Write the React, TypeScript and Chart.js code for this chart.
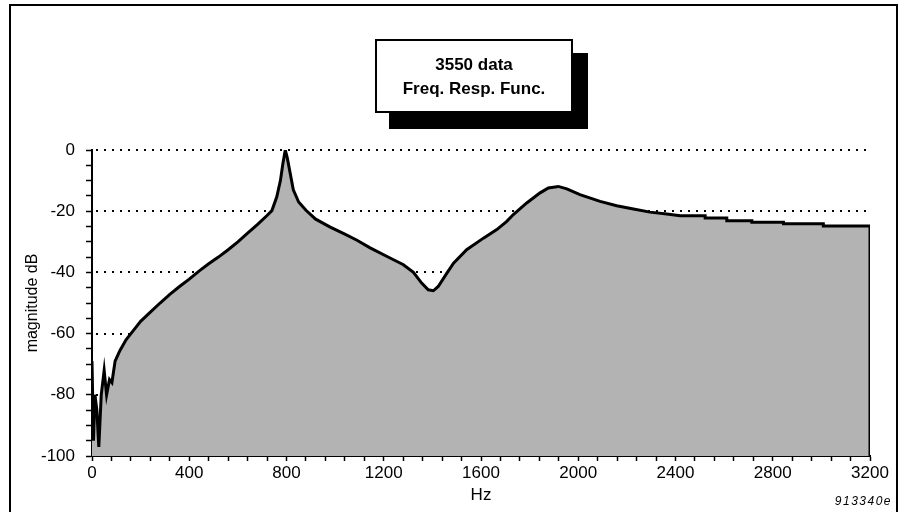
import React, { useEffect, useRef } from 'react';
import { Chart, registerables } from 'chart.js';

Chart.register(...registerables);

// Frequency response
const freqHz = [
  0, 6, 12, 20, 28, 38, 50, 60, 72, 82, 95, 115, 140, 160, 200, 240, 280, 320, 360, 400,
  440, 480, 520, 560, 600, 640, 680, 720, 740, 760, 775, 785, 795, 803, 815, 828, 850, 880,
  920, 980, 1040, 1090, 1144, 1226, 1281, 1322, 1356, 1383, 1404, 1424, 1459, 1487, 1541,
  1610, 1665, 1706, 1733, 1788, 1843, 1877, 1918, 1953, 2007, 2090, 2158, 2227, 2295, 2364,
  2419, 2522, 2522, 2611, 2611, 2714, 2714, 2844, 2844, 3008, 3008, 3200, 3200,
];
const magnitudeDb = [
  -69, -95, -80, -85, -97, -80, -72, -80, -75, -76, -69, -65.5, -62, -60, -56, -53, -50, -47.2, -44.6, -42.2,
  -39.6, -37.2, -35, -32.6, -30, -27.2, -24.4, -21.4, -19.8, -15.3, -10, -4.5, 0, -2.5, -7.5, -13, -17, -19.7,
  -22.6, -25.2, -27.5, -29.5, -32, -35.3, -37.5, -40, -43.5, -45.7, -46, -44.6, -40.3, -37, -32.6,
  -28.8, -26, -23.3, -21.1, -17.3, -14, -12.4, -11.9, -12.7, -14.6, -16.8, -18.2, -19.3, -20.3, -20.9,
  -21.5, -21.5, -22.2, -22.2, -23.1, -23.1, -23.6, -23.6, -24.1, -24.1, -24.8, -24.8, -100,
];

const xTickLabels = [0, 400, 800, 1200, 1600, 2000, 2400, 2800, 3200];
const yTickLabels = [0, -20, -40, -60, -80, -100];
const dottedGridDb = [0, -20, -40, -60, -80];
const titleLines = ['3550 data', 'Freq. Resp. Func.'];
const figureCode = '913340e';
const xAxisTitle = 'Hz';
const yAxisTitle = 'magnitude dB';

const FONT = '"Liberation Sans", Arial, Helvetica, sans-serif';

export default function App() {
  const ref = useRef<HTMLCanvasElement>(null);

  useEffect(() => {
    const canvas = ref.current;
    if (!canvas) return;

    const decor = {
      id: 'decor',
      beforeDatasetsDraw(chart: any) {
        const { ctx, chartArea, scales } = chart;
        const y = scales.y;
        ctx.save();
        ctx.strokeStyle = '#000';
        ctx.lineWidth = 2;
        ctx.setLineDash([2, 6]);
        dottedGridDb.forEach((v) => {
          const py = Math.round(y.getPixelForValue(v));
          ctx.beginPath();
          ctx.moveTo(chartArea.left + 4, py);
          ctx.lineTo(chartArea.right, py);
          ctx.stroke();
        });
        ctx.restore();
      },
      afterDraw(chart: any) {
        const { ctx } = chart;
        ctx.save();
        // outer frame
        ctx.strokeStyle = '#000';
        ctx.lineWidth = 2;
        ctx.strokeRect(10, 5, 887, 520);
        // title box with shadow
        ctx.fillStyle = '#000';
        ctx.fillRect(389, 53, 199, 76);
        ctx.fillStyle = '#fff';
        ctx.fillRect(376, 40, 196, 72);
        ctx.strokeRect(376, 40, 196, 72);
        ctx.fillStyle = '#000';
        ctx.font = `bold 17px ${FONT}`;
        ctx.textAlign = 'center';
        ctx.textBaseline = 'middle';
        ctx.fillText(titleLines[0], 474, 65);
        ctx.fillText(titleLines[1], 474, 89);
        // figure code
        ctx.font = `italic 12px ${FONT}`;
        (ctx as any).letterSpacing = '1.5px';
        ctx.textAlign = 'right';
        ctx.fillText(figureCode, 892, 502);
        ctx.restore();
      },
    };

    const points = freqHz.map((f, i) => ({ x: f, y: magnitudeDb[i] }));

    const chart = new Chart(canvas, {
      type: 'line',
      data: {
        datasets: [
          {
            data: points,
            borderColor: '#000',
            borderWidth: 3,
            backgroundColor: '#b3b3b3',
            fill: 'start',
            pointRadius: 0,
            tension: 0,
          },
        ],
      },
      options: {
        animation: false,
        responsive: false,
        devicePixelRatio: 1,
        layout: { padding: { left: 0, right: 34, top: 150, bottom: 0 } },
        plugins: { legend: { display: false }, tooltip: { enabled: false } },
        scales: {
          x: {
            type: 'linear',
            min: 0,
            max: 3200,
            z: 1,
            afterFit: (s: any) => { s.height = 56; },
            grid: { display: true, drawOnChartArea: false, drawTicks: true, tickLength: 5, tickColor: '#000', tickWidth: 1.5, color: '#000' },
            border: { display: true, color: '#000', width: 2 },
            ticks: {
              stepSize: 80,
              autoSkip: false,
              maxRotation: 0,
              padding: 2,
              color: '#000',
              font: { family: FONT, size: 17 },
              callback: (v: any) => (xTickLabels.includes(Math.round(Number(v))) ? String(Math.round(Number(v))) : ''),
            },
            title: { display: true, text: xAxisTitle, color: '#000', font: { family: FONT, size: 17 }, padding: { top: 0, bottom: 6 } },
          },
          y: {
            type: 'linear',
            min: -100,
            max: 0,
            z: 1,
            afterFit: (s: any) => { s.width = 92; },
            grid: { display: true, drawOnChartArea: false, drawTicks: true, tickLength: 6, tickColor: '#000', tickWidth: 1.5, color: '#000' },
            border: { display: true, color: '#000', width: 2 },
            ticks: {
              stepSize: 5,
              autoSkip: false,
              padding: 11,
              color: '#000',
              font: { family: FONT, size: 17 },
              callback: (v: any) => (yTickLabels.includes(Math.round(Number(v))) ? String(Math.round(Number(v))) : ''),
            },
            title: { display: true, text: yAxisTitle, color: '#000', font: { family: FONT, size: 16 }, padding: { top: 23, bottom: 0 } },
          },
        },
      },
      plugins: [decor],
    });

    return () => chart.destroy();
  }, []);

  return (
    <div style={{ position: 'fixed', left: 0, top: 0, width: 904, height: 512, background: '#fff' }}>
      <canvas ref={ref} width={904} height={512} style={{ width: 904, height: 512, display: 'block' }} />
    </div>
  );
}
